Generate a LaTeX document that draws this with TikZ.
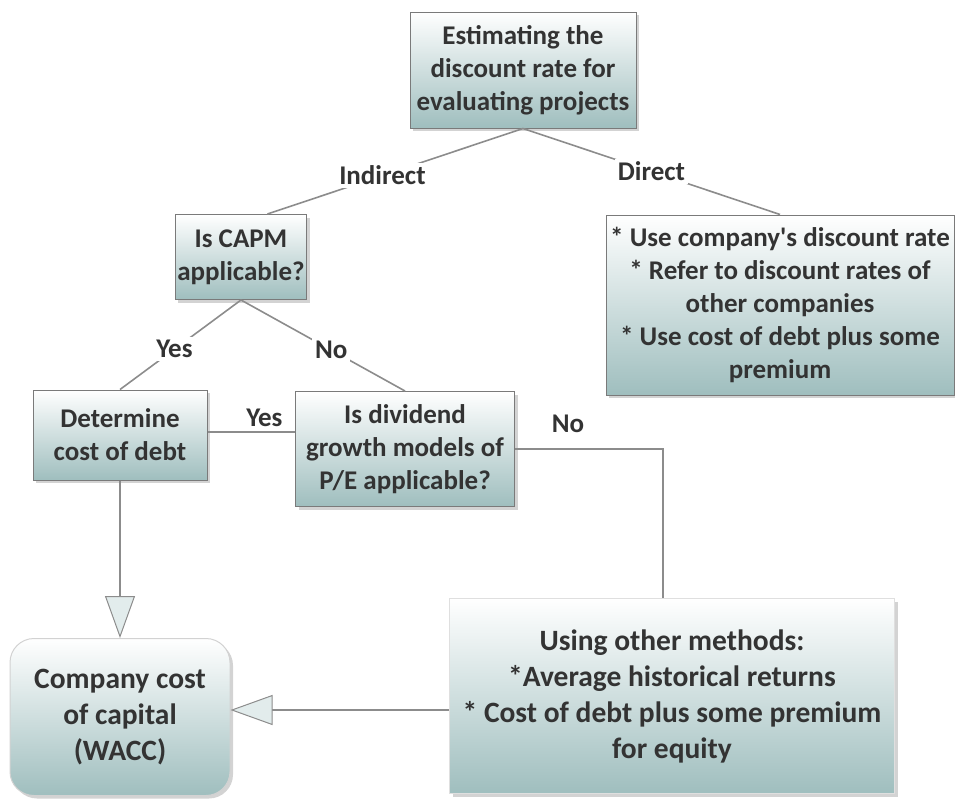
\documentclass[tikz,border=0pt]{standalone}
\usepackage{fontspec}
\setmainfont{Carlito}
\usetikzlibrary{arrows.meta,shadows,calc}
\definecolor{txt}{HTML}{333333}
\definecolor{boxbot}{HTML}{9FBEBE}
\definecolor{edge}{HTML}{7A7A7A}
\definecolor{lnk}{HTML}{8C8C8C}
\definecolor{tipfill}{HTML}{E2ECEC}
\begin{document}
\begin{tikzpicture}[x=1pt,y=-1pt,
  font=\fontsize{27}{33}\selectfont\bfseries, text=txt,
  box/.style={draw=edge, line width=1pt, top color=white, bottom color=boxbot,
    align=center, inner sep=2pt, drop shadow={shadow xshift=3pt,shadow yshift=-3pt,opacity=0.35}},
  bigfont/.style={font=\fontsize{29.5}{36}\selectfont\bfseries},
  lab/.style={fill=white, inner sep=3pt},
  conn/.style={draw=lnk, line width=1.6pt},
  bigtip/.style={-{Triangle[length=42pt,width=30pt,fill=tipfill,line width=1pt]}}
]
\useasboundingbox (0,0) rectangle (955,801);
\node[box, minimum width=226pt, minimum height=116pt] (top) at (523,70)
  {Estimating the\\discount rate for\\evaluating projects};
\node[box, minimum width=348pt, minimum height=180pt] (direct) at (780,305)
  {* Use company\textquotesingle s discount rate\\* Refer to discount rates of\\other companies\\* Use cost of debt plus some\\premium};
\node[box, minimum width=128pt, minimum height=85pt] (capm) at (241,257)
  {Is CAPM\\applicable?};
\node[box, minimum width=174pt, minimum height=90pt] (debt) at (120,435)
  {Determine\\cost of debt};
\node[box, minimum width=219pt, minimum height=115pt] (div) at (405,449)
  {Is dividend\\growth models of\\P/E applicable?};
\node[box, bigfont, rounded corners=24pt, draw=gray!35, minimum width=220pt, minimum height=157pt] (wacc) at (120,717)
  {Company cost\\of capital\\(WACC)};
\node[box, bigfont, draw=gray!25, minimum width=445pt, minimum height=195pt] (other) at (672,696)
  {Using other methods:\\*Average historical returns\\* Cost of debt plus some premium\\for equity};

% connectors
\draw[conn] (top.south) -- node[lab, pos=0.55] (lind) {Indirect} ($(capm.north)!0.4!(capm.north east)$);
\draw[conn] (top.south) -- node[lab, pos=0.5] (ldir) {Direct} (direct.north);
\draw[conn] (capm.south) -- node[lab, pos=0.55] (lyes1) {Yes} (debt.north);
\draw[conn] (capm.south) -- node[lab, pos=0.55] (lno1) {No} (div.north);
\draw[conn] ([yshift=3pt]debt.east) -- node[above=3pt, pos=0.65, inner sep=2pt] (lyes2) {Yes} ([yshift=3pt]debt.east -| div.west);
\draw[conn] (div.east) -| ([xshift=-9pt]other.north);
\node[inner sep=0pt] (lno2) at (568,424) {No};
\draw[conn, bigtip] (debt.south) -- (wacc.north);
\draw[conn, bigtip] ([yshift=-14pt]other.west) -- ([yshift=-14pt]other.west -| wacc.east);
\end{tikzpicture}
\end{document}
